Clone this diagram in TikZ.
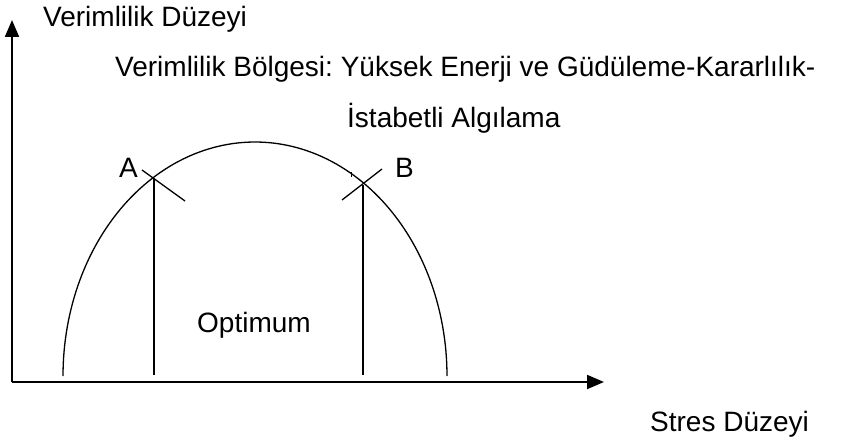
\documentclass[tikz,border=0pt]{standalone}
\usepackage{fontspec}
\setmainfont{Liberation Sans}
\usetikzlibrary{arrows.meta}
\frenchspacing
\begin{document}
\begin{tikzpicture}[x=1pt,y=-1pt,
  axis/.style={line width=2pt,-{Triangle[length=17pt,width=14pt]}},
  thin line/.style={line width=1.3pt},
  lbl/.style={anchor=base west,inner sep=0pt,font=\fontsize{28}{32}\selectfont}]
\useasboundingbox (0,0) rectangle (851,443);
% axes
\coordinate (O) at (12,382);
\coordinate (Ytip) at (12,20);
\coordinate (Xtip) at (604,382);
\draw[axis] (O) -- (Ytip);
\draw[axis] (O) -- (Xtip);
% arch
\draw[thin line] plot[domain=180:360,samples=120] ({255+192*cos(\x)},{376+234*sin(\x)});
% A and B
\coordinate (A) at (154,179);
\coordinate (Abot) at (154,375);
\coordinate (B) at (363,185);
\coordinate (Bbot) at (363,375);
\draw[thin line] (A) -- (Abot);
\draw[thin line] (B) -- (Bbot);
\coordinate (A1) at (142,170);
\coordinate (A2) at (185,201);
\coordinate (B1) at (342,200);
\coordinate (B2) at (382,169);
\draw[thin line] (A1) -- (A2);
\draw[thin line] (B1) -- (B2);
\coordinate (T1) at (351,172);
\coordinate (T2) at (351,177);
\draw[line width=1pt] (T1) -- (T2);
% labels
\node[lbl] (ylab) at (43,27) {Verimlilik Düzeyi};
\node[lbl] (l1) at (115,77) {Verimlilik Bölgesi: Yüksek Enerji ve Güdüleme-Kararlılık-};
\node[lbl] (l2) at (347,128) {İstabetli Algılama};
\node[lbl] (la) at (119,178) {A};
\node[lbl] (lb) at (395,178) {B};
\node[lbl] (opt) at (197,333) {Optimum};
\node[lbl] (xlab) at (650,431) {Stres Düzeyi};
\end{tikzpicture}
\end{document}
